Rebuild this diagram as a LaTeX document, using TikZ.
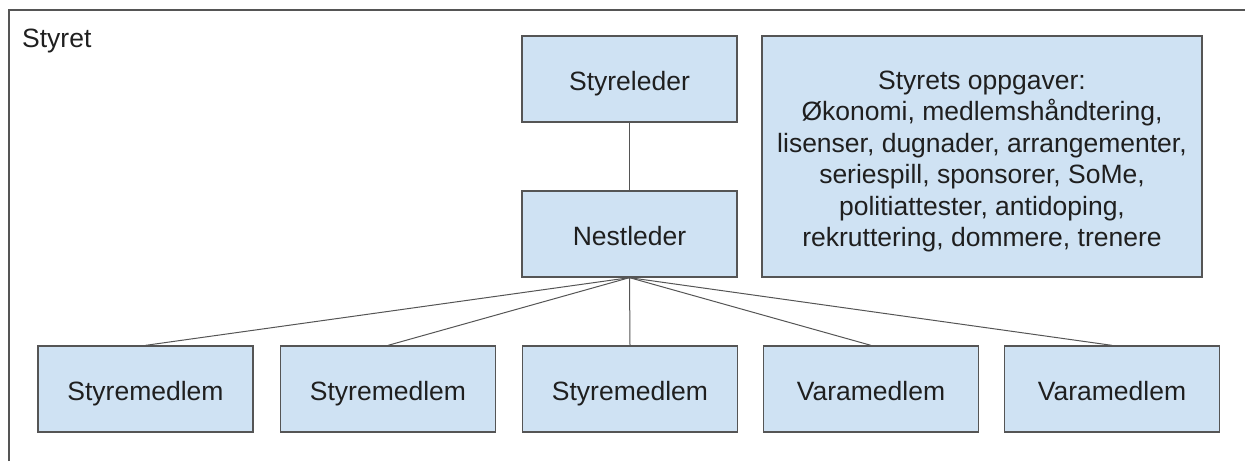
\documentclass[tikz,border=0pt]{standalone}
\usepackage{fontspec}
\setmainfont{Liberation Sans}
\definecolor{boxfill}{HTML}{CFE2F3}
\definecolor{boxline}{HTML}{555555}
\definecolor{txt}{HTML}{1F1F1F}
\begin{document}
\begin{tikzpicture}[x=1pt,y=-1pt,
  bigfont/.style={font=\fontsize{26.5}{31.5}\selectfont,text=txt},
  orgbox/.style={draw=boxline,fill=boxfill,line width=1.3pt,minimum width=215pt,minimum height=86pt,
    inner sep=0pt,bigfont,text height=22pt,text depth=0pt},
  link/.style={draw=boxline,line width=1pt}]
\useasboundingbox (0,0) rectangle (1245,461);
\draw[boxline,line width=1.5pt] (9,461) -- (9,10) -- (1245,10);
\node[anchor=base west,bigfont,inner sep=0pt] (title) at (22,47) {Styret};
\node[orgbox] (leder) at (629.5,79) {Styreleder};
\node[orgbox] (nest) at (629.5,234) {Nestleder};
\node[orgbox,minimum width=440pt,minimum height=241pt] (tasks) at (982,156.5) {};
\node[bigfont,align=center,inner sep=0pt] (tasktext) at (982,161.5)
  {Styrets oppgaver:\\Økonomi, medlemshåndtering,\\lisenser, dugnader, arrangementer,\\seriespill, sponsorer, SoMe,\\politiattester, antidoping,\\rekruttering, dommere, trenere};
\node[orgbox] (m1) at (145.5,389) {Styremedlem};
\node[orgbox] (m2) at (388,389) {Styremedlem};
\node[orgbox] (m3) at (630,389) {Styremedlem};
\node[orgbox] (v1) at (871,389) {Varamedlem};
\node[orgbox] (v2) at (1112,389) {Varamedlem};
\draw[link] (leder.south) -- (nest.north);
\foreach \n in {m1,m2,m3,v1,v2}
  \draw[link] (nest.south) -- (\n.north);
\end{tikzpicture}
\end{document}
